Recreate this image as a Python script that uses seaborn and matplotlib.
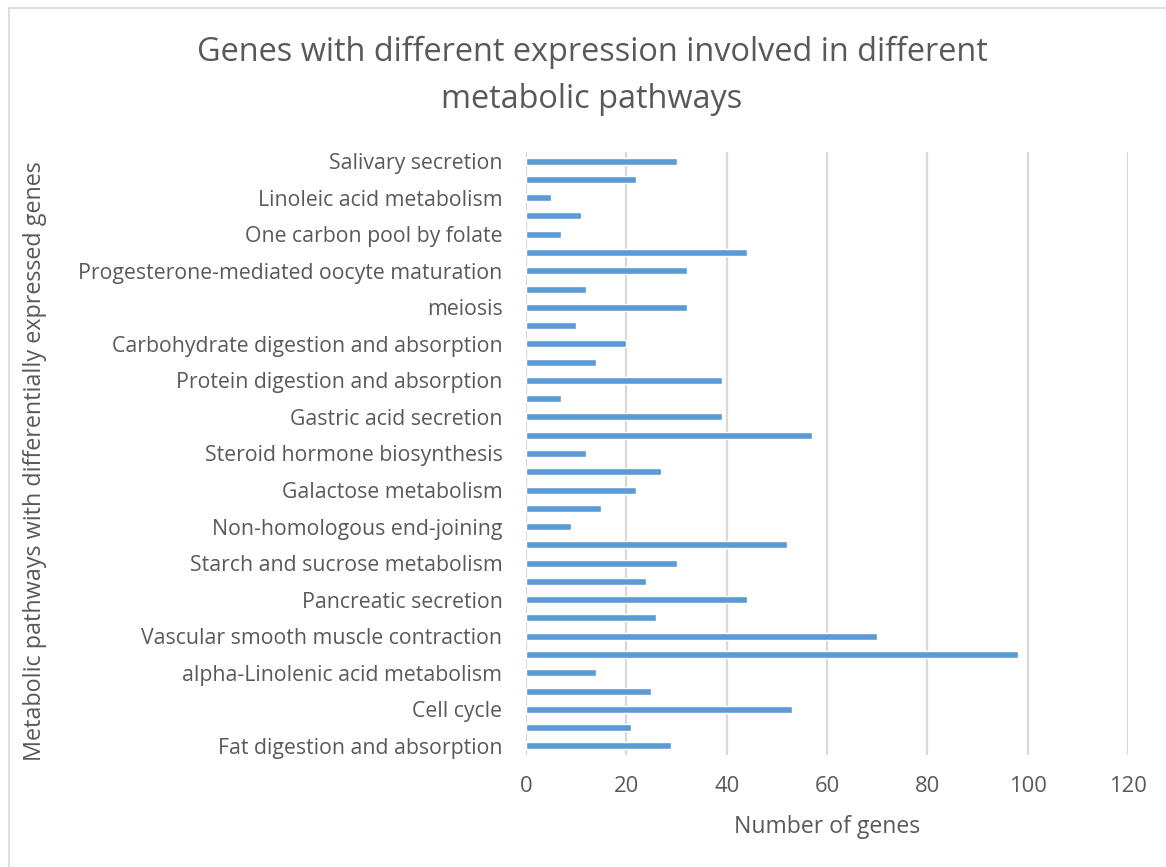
import numpy as np
import pandas as pd
import matplotlib
matplotlib.use("Agg")
import matplotlib.pyplot as plt
import seaborn as sns
from matplotlib.lines import Line2D

# Pathways listed top to bottom; every other category carries a visible label
labeled_pathways = [
    "Salivary secretion",
    "Linoleic acid metabolism",
    "One carbon pool by folate",
    "Progesterone-mediated oocyte maturation",
    "meiosis",
    "Carbohydrate digestion and absorption",
    "Protein digestion and absorption",
    "Gastric acid secretion",
    "Steroid hormone biosynthesis",
    "Galactose metabolism",
    "Non-homologous end-joining",
    "Starch and sucrose metabolism",
    "Pancreatic secretion",
    "Vascular smooth muscle contraction",
    "alpha-Linolenic acid metabolism",
    "Cell cycle",
    "Fat digestion and absorption",
]

gene_counts = [30, 22, 5, 11, 7, 44, 32, 12, 32, 10, 20, 14, 39, 7, 39, 57, 12,
               27, 22, 15, 9, 52, 30, 24, 44, 26, 70, 98, 14, 25, 53, 21, 29]

x_ticks = [0, 20, 40, 60, 80, 100, 120]

title_lines = ["Genes with different expression involved in different",
               "metabolic pathways"]
x_title = "Number of genes"
y_title = "Metabolic pathways with differentially expressed genes"

# Build tick labels: labels on even positions, blanks in between
tick_labels = []
for i in range(len(gene_counts)):
    tick_labels.append(labeled_pathways[i // 2] if i % 2 == 0 else "")

df = pd.DataFrame({"slot": [str(i) for i in range(len(gene_counts))],
                   "genes": gene_counts})

sns.set_theme(style="white")
plt.rcParams["font.family"] = ["Open Sans", "DejaVu Sans"]

text_color = "#595959"
grid_color = "#D9D9D9"
bar_color = "#5B9BD5"

fig = plt.figure(figsize=(11.66, 8.67), dpi=100)
ax = fig.add_axes([526 / 1166, 1 - 755 / 867, 602 / 1166, 603 / 867])

sns.barplot(data=df, x="genes", y="slot", order=df["slot"].tolist(),
            color=bar_color, saturation=1, width=0.38, ax=ax, orient="h")

ax.set_xlim(0, 120)
ax.set_xticks(x_ticks)
ax.set_xticklabels([str(t) for t in x_ticks])
ax.set_yticks(range(len(gene_counts)))
ax.set_yticklabels(tick_labels)
ax.set_xlabel("")
ax.set_ylabel("")

ax.grid(axis="x", color=grid_color, linewidth=1.6)
ax.grid(axis="y", visible=False)
ax.set_axisbelow(True)
for s in ax.spines.values():
    s.set_visible(False)

ax.tick_params(axis="y", length=0, pad=17, labelsize=15.3, labelcolor=text_color)
ax.tick_params(axis="x", length=0, pad=15, labelsize=15.8, labelcolor=text_color)

# Chart text
fig.text(592 / 1166, 1 - 52 / 867, title_lines[0], ha="center", va="center",
         fontsize=23.4, color=text_color)
fig.text(592 / 1166, 1 - 100 / 867, title_lines[1], ha="center", va="center",
         fontsize=23.4, color=text_color)
fig.text(827 / 1166, 1 - 827 / 867, x_title, ha="center", va="center",
         fontsize=16.6, color=text_color)
fig.text(35 / 1166, 1 - 461 / 867, y_title, ha="center", va="center",
         rotation=90, fontsize=16.8, color=text_color)

# Chart-area border along the top and left edges
fig.add_artist(Line2D([9 / 1166, 9 / 1166], [0, 1 - 8 / 867],
                      transform=fig.transFigure, color=grid_color, linewidth=1.2))
fig.add_artist(Line2D([9 / 1166, 1], [1 - 8 / 867, 1 - 8 / 867],
                      transform=fig.transFigure, color=grid_color, linewidth=1.2))

fig.savefig("out.png", dpi=100, facecolor="white")
